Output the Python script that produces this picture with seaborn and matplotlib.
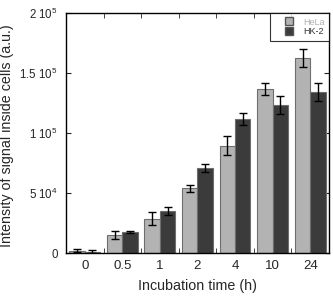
import numpy as np
import pandas as pd
import matplotlib
matplotlib.use('Agg')
import matplotlib.pyplot as plt
from matplotlib.lines import Line2D
from matplotlib.ticker import FixedLocator
import seaborn as sns

# values
times = ['0', '0.5', '1', '2', '4', '10', '24']
hela = [2000, 15000, 28500, 53800, 89500, 136500, 162500]
hela_err = [1500, 3300, 5500, 3200, 8000, 5000, 7300]
hk2 = [1200, 17500, 35000, 70500, 111800, 123500, 134500]
hk2_err = [1200, 1000, 3300, 3300, 5000, 7300, 7500]

df = pd.DataFrame({
    'time': times * 2,
    'value': hela + hk2,
    'err': hela_err + hk2_err,
    'cell': ['HeLa'] * len(times) + ['HK-2'] * len(times),
})

sns.set_style('ticks')
plt.rcParams['font.family'] = ['Liberation Sans', 'DejaVu Sans']
plt.rcParams['mathtext.fontset'] = 'custom'
plt.rcParams['mathtext.rm'] = 'Liberation Sans'

fig = plt.figure(figsize=(3.33, 2.97), dpi=100)
ax = fig.add_axes([0.198, 0.148, 0.79, 0.808])

colors = {'HeLa': '#b3b3b3', 'HK-2': '#3b3b3b'}
sns.barplot(data=df, x='time', y='value', hue='cell', order=times,
            hue_order=['HeLa', 'HK-2'], palette=colors, errorbar=None,
            width=0.82, edgecolor='#6e6e6e', linewidth=0.8, ax=ax, legend=False)

# error bars from the same arrays, placed at each bar centre
for cont, errs, vals in zip(ax.containers, [hela_err, hk2_err], [hela, hk2]):
    xs = [p.get_x() + p.get_width() / 2 for p in cont.patches]
    ax.errorbar(xs, vals, yerr=errs, fmt='none', ecolor='black',
                elinewidth=1.0, capsize=3, capthick=1.0)

ax.set_ylim(0, 200000)
ax.set_xlim(-0.5, len(times) - 0.5)
ax.set_yticks([0, 50000, 100000, 150000, 200000])
ax.set_yticklabels(['0', r'5 10$^4$', r'1 10$^5$', r'1.5 10$^5$', r'2 10$^5$'])
ax.xaxis.set_minor_locator(FixedLocator(np.arange(0.5, len(times) - 1, 1)))
ax.tick_params(axis='x', which='major', length=0, labelsize=9.5, pad=5)
ax.tick_params(axis='x', which='minor', direction='in', length=3.5, top=True, bottom=True)
ax.tick_params(axis='y', which='major', direction='in', length=3.5, left=True, right=True,
               labelsize=8.3, pad=6)
for s in ax.spines.values():
    s.set_visible(True)
    s.set_linewidth(1.0)
    s.set_color('black')

ax.set_xlabel('Incubation time (h)', fontsize=10.3, labelpad=5)
ax.set_ylabel('Intensity of signal inside cells (a.u.)', fontsize=10.3)
ax.yaxis.set_label_coords(-0.198, 0.49)

handles = [Line2D([], [], marker='s', linestyle='none', markersize=6,
                  markerfacecolor=colors[c], markeredgecolor='#555555') for c in ['HeLa', 'HK-2']]
leg = ax.legend(handles, ['HeLa', 'HK-2'], loc='upper right', fontsize=6.5,
                frameon=True, fancybox=False, borderaxespad=0, handletextpad=0.1,
                labelspacing=0.1, borderpad=0.5, handlelength=3.0)
leg.get_frame().set_edgecolor('black')
leg.get_frame().set_linewidth(0.8)
leg.get_texts()[0].set_color('#b0b0b0')
leg.get_texts()[1].set_color('#333333')

fig.savefig('out.png', dpi=100)
